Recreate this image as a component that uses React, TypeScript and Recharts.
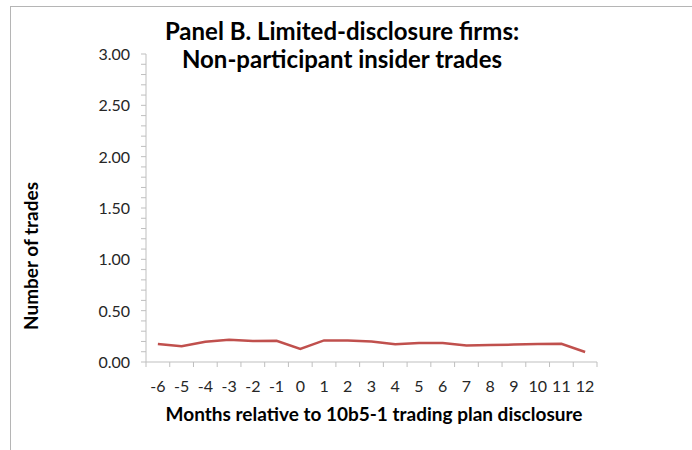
import React from "react";
import { LineChart, Line, XAxis, YAxis } from "recharts";

// months relative to the plan disclosure
const months = [-6, -5, -4, -3, -2, -1, 0, 1, 2, 3, 4, 5, 6, 7, 8, 9, 10, 11, 12];
// average number of non-participant insider trades
const trades = [
  0.175, 0.153, 0.198, 0.217, 0.204, 0.207, 0.127, 0.21, 0.21, 0.2, 0.172,
  0.185, 0.185, 0.16, 0.165, 0.17, 0.175, 0.177, 0.097,
];

// tick marks sit between the months (Excel style)
const xBoundaries = [
  -6.5, -5.5, -4.5, -3.5, -2.5, -1.5, -0.5, 0.5, 1.5, 2.5, 3.5, 4.5, 5.5, 6.5,
  7.5, 8.5, 9.5, 10.5, 11.5, 12.5,
];
const yMajor = [0, 0.5, 1, 1.5, 2, 2.5, 3];
const yMinor = [
  0.1, 0.2, 0.3, 0.4, 0.6, 0.7, 0.8, 0.9, 1.1, 1.2, 1.3, 1.4, 1.6, 1.7, 1.8,
  1.9, 2.1, 2.2, 2.3, 2.4, 2.6, 2.7, 2.8, 2.9,
];

const data = months.map((m, i) => ({ month: m, trades: trades[i] }));
const xTicks = [...months, ...xBoundaries].sort((a, b) => a - b);
const yTicks = [...yMajor, ...yMinor].sort((a, b) => a - b);

const FONT = "Lato, 'Open Sans', sans-serif";
const AXIS = "#bfbfbf";

function XTick(props: any) {
  const { x, y, payload } = props;
  const v = payload?.value;
  if (Number.isInteger(v)) {
    return (
      <text
        x={x}
        y={y + 30}
        textAnchor="middle"
        fontFamily={FONT}
        fontSize={16}
        fill="#262626"
      >
        {v}
      </text>
    );
  }
  return <line x1={x} x2={x} y1={y} y2={y + 5} stroke={AXIS} />;
}

function YTick(props: any) {
  const { x, y, payload } = props;
  const v = payload?.value as number;
  const major = yMajor.some((m) => Math.abs(m - v) < 1e-6);
  return (
    <g>
      <line x1={x - 5} x2={x} y1={y} y2={y} stroke={AXIS} />
      {major && (
        <text
          x={x - 16}
          y={y + 6}
          textAnchor="end"
          fontFamily={FONT}
          fontSize={16}
          fill="#262626"
        >
          {v.toFixed(2)}
        </text>
      )}
    </g>
  );
}

export default function App() {
  return (
    <div
      style={{
        position: "absolute",
        left: 0,
        top: 0,
        width: 692,
        height: 450,
        background: "#fff",
        overflow: "hidden",
        fontFamily: FONT,
      }}
    >
      <div
        style={{
          position: "absolute",
          left: 10,
          top: 6,
          width: 700,
          height: 460,
          borderLeft: "1px solid #b5b5b5",
          borderTop: "1px solid #b5b5b5",
        }}
      />
      <LineChart
        width={692}
        height={450}
        data={data}
        margin={{ top: 54, right: 95, bottom: 0, left: 0 }}
      >
        <XAxis
          dataKey="month"
          type="number"
          domain={[-6.5, 12.5]}
          ticks={xTicks}
          interval={0}
          tickSize={0}
          tickMargin={0}
          tickLine={false}
          stroke={AXIS}
          height={88}
          tick={<XTick />}
        />
        <YAxis
          type="number"
          domain={[0, 3]}
          ticks={yTicks}
          interval={0}
          tickSize={0}
          tickMargin={0}
          tickLine={false}
          stroke={AXIS}
          width={146}
          tick={<YTick />}
        />
        <Line
          type="linear"
          dataKey="trades"
          stroke="#c0504d"
          strokeWidth={2.5}
          dot={false}
          activeDot={false}
          isAnimationActive={false}
        />
      </LineChart>
      <div
        style={{
          position: "absolute",
          left: 0,
          width: 692,
          top: 17,
          textAlign: "center",
          fontSize: 24,
          fontWeight: 700,
          lineHeight: "28px",
          color: "#000",
        }}
      >
        <div style={{ marginLeft: -8 }}>Panel B. Limited-disclosure firms:</div>
        <div style={{ marginLeft: -8 }}>Non-participant insider trades</div>
      </div>
      <div
        style={{
          position: "absolute",
          left: 74,
          width: 600,
          top: 402,
          textAlign: "center",
          fontSize: 19,
          fontWeight: 700,
          lineHeight: "24px",
          color: "#000",
        }}
      >
        Months relative to 10b5-1 trading plan disclosure
      </div>
      <div
        style={{
          position: "absolute",
          left: 31,
          top: 256,
          width: 240,
          marginLeft: -120,
          marginTop: -12,
          textAlign: "center",
          fontSize: 19,
          fontWeight: 700,
          lineHeight: "24px",
          color: "#000",
          transform: "rotate(-90deg)",
        }}
      >
        Number of trades
      </div>
    </div>
  );
}
